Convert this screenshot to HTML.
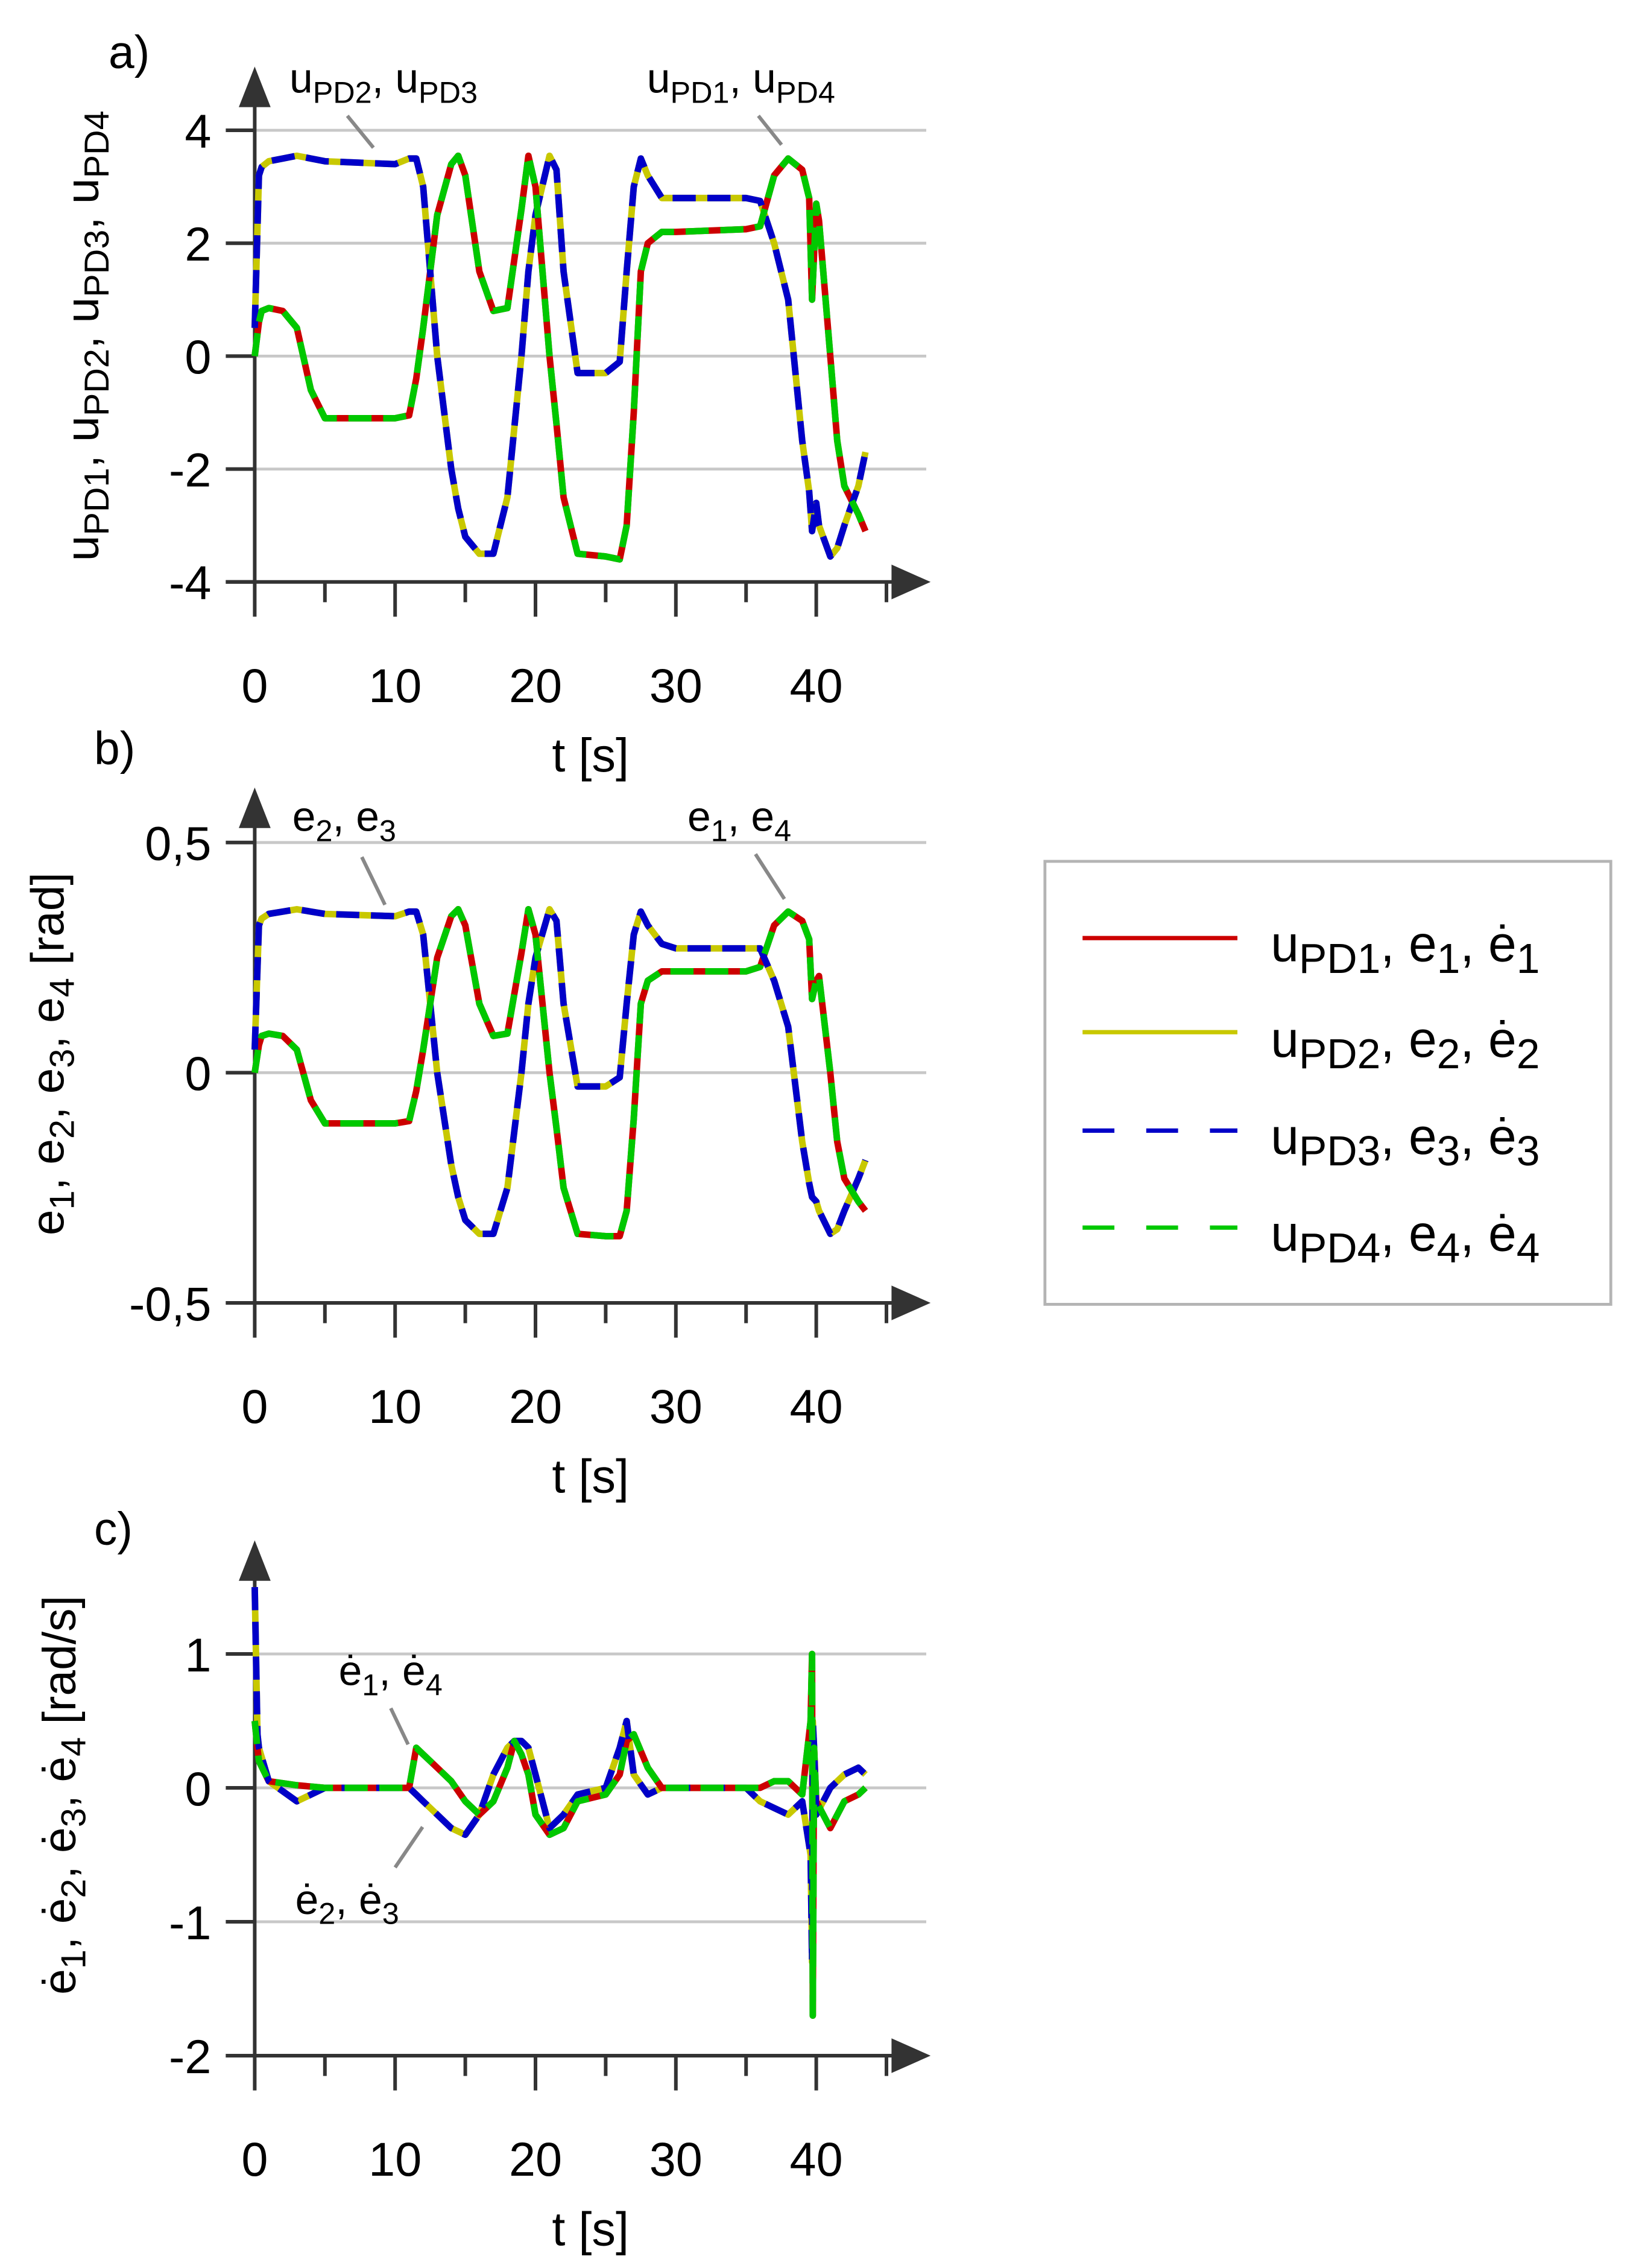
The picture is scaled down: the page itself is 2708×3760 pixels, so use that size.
<!DOCTYPE html>
<html><head><meta charset="utf-8"><style>
html,body{margin:0;padding:0;background:#fff}
svg{display:block}
text{font-family:"Liberation Sans",sans-serif;fill:#000}
</style></head><body>
<svg id="chart" width="2708" height="3760" viewBox="0 0 1128.33 1566.67" xmlns="http://www.w3.org/2000/svg">
<rect width="1128.33" height="1566.67" fill="#fff"/>
<g id="plots"></g>
<g>
<rect x="722" y="595" width="391" height="306" fill="#fff" stroke="#b4b4b4" stroke-width="2"/>
<line x1="748" y1="648" x2="855" y2="648" stroke="#cc0000" stroke-width="3"/>
<line x1="748" y1="713" x2="855" y2="713" stroke="#c8c800" stroke-width="3"/>
<line x1="748" y1="781" x2="855" y2="781" stroke="#0000c8" stroke-width="3" stroke-dasharray="22,22"/>
<line x1="748" y1="848" x2="855" y2="848" stroke="#00c800" stroke-width="3" stroke-dasharray="22,22"/>
<text x="878" y="664" font-size="35">u<tspan dy="8" font-size="29">PD1</tspan><tspan dy="-8">, e</tspan><tspan dy="8" font-size="29">1</tspan><tspan dy="-8">, ė</tspan><tspan dy="8" font-size="29">1</tspan></text>
<text x="878" y="730" font-size="35">u<tspan dy="8" font-size="29">PD2</tspan><tspan dy="-8">, e</tspan><tspan dy="8" font-size="29">2</tspan><tspan dy="-8">, ė</tspan><tspan dy="8" font-size="29">2</tspan></text>
<text x="878" y="797" font-size="35">u<tspan dy="8" font-size="29">PD3</tspan><tspan dy="-8">, e</tspan><tspan dy="8" font-size="29">3</tspan><tspan dy="-8">, ė</tspan><tspan dy="8" font-size="29">3</tspan></text>
<text x="878" y="864" font-size="35">u<tspan dy="8" font-size="29">PD4</tspan><tspan dy="-8">, e</tspan><tspan dy="8" font-size="29">4</tspan><tspan dy="-8">, ė</tspan><tspan dy="8" font-size="29">4</tspan></text>
</g>
</svg>
<script>
// ---- data ----
const tA = [0,0.3,0.5,1,2,3,4,5,10,11,11.5,12,13,14,14.5,15,16,17,18,19,19.5,20,21,21.5,22,23,25,26,26.5,27,27.5,28,29,30,35,36,37,38,39,39.5,39.7,40,40.2,41,41.5,42,43,43.5];
const u1 = [0,0.6,0.8,0.85,0.8,0.5,-0.6,-1.1,-1.1,-1.05,-0.4,0.5,2.5,3.4,3.55,3.2,1.5,0.8,0.85,2.6,3.55,3,0,-1.2,-2.5,-3.5,-3.55,-3.6,-3,-1,1.5,2,2.2,2.2,2.25,2.3,3.2,3.5,3.3,2.8,1.0,2.7,2.4,0,-1.5,-2.3,-2.8,-3.1];
const u2 = [0.5,3.2,3.35,3.45,3.5,3.55,3.5,3.45,3.4,3.5,3.5,3.0,0,-2,-2.7,-3.2,-3.5,-3.5,-2.5,0,1.5,2.5,3.55,3.3,1.5,-0.3,-0.3,-0.1,1.5,3,3.5,3.2,2.8,2.8,2.8,2.75,2,1,-1.5,-2.4,-3.1,-2.6,-3.0,-3.55,-3.4,-3,-2.3,-1.7];
const e1 = [0,0.06,0.08,0.085,0.08,0.05,-0.06,-0.11,-0.11,-0.105,-0.04,0.05,0.25,0.34,0.355,0.32,0.15,0.08,0.085,0.26,0.355,0.3,0,-0.12,-0.25,-0.35,-0.355,-0.355,-0.3,-0.1,0.15,0.2,0.22,0.22,0.22,0.23,0.32,0.35,0.33,0.29,0.16,0.2,0.21,0,-0.15,-0.23,-0.28,-0.3];
const e2 = [0.05,0.32,0.335,0.345,0.35,0.355,0.35,0.345,0.34,0.35,0.35,0.3,0,-0.2,-0.27,-0.32,-0.35,-0.35,-0.25,0,0.15,0.25,0.355,0.33,0.15,-0.03,-0.03,-0.01,0.15,0.3,0.35,0.32,0.28,0.27,0.27,0.27,0.2,0.1,-0.15,-0.24,-0.27,-0.28,-0.3,-0.35,-0.34,-0.3,-0.23,-0.19];
const tC = [0,0.2,0.3,1,3,5,11,11.5,12,13,14,15,16,17,18,18.5,19,19.5,20,21,22,23,25,26,26.5,27,28,29,35,36,37,38,39,39.6,39.7,39.75,39.85,40,41,42,43,43.5];
const d1 = [0.5,0.3,0.2,0.05,0.02,0,0,0.3,0.25,0.15,0.05,-0.1,-0.2,-0.1,0.15,0.35,0.25,0.1,-0.2,-0.35,-0.3,-0.1,-0.05,0.1,0.35,0.4,0.15,0,0,0,0.05,0.05,-0.05,0.5,1.0,-1.7,0.3,-0.1,-0.3,-0.1,-0.05,0];
const d2 = [1.5,0.4,0.3,0.05,-0.1,0,0,-0.05,-0.1,-0.2,-0.3,-0.35,-0.2,0.1,0.3,0.35,0.35,0.3,0.1,-0.3,-0.2,-0.05,0,0.3,0.5,0.1,-0.05,0,0,-0.1,-0.15,-0.2,-0.1,-0.5,-1.3,0.5,0.3,-0.2,0,0.1,0.15,0.1];
const xTicks = [0,10,20,30,40];
const yTicksA = [4,2,0,-2,-4];
const yTicksB = [0.5,0,-0.5];
const yTicksBLabels = ["0,5","0","-0,5"];
const yTicksC = [1,0,-1,-2];

const NS = "http://www.w3.org/2000/svg";
const root = document.getElementById('plots');
function mk(tag, attrs, parent){const e=document.createElementNS(NS,tag);for(const k in attrs)e.setAttribute(k,attrs[k]);(parent||root).appendChild(e);return e;}

function panel(cfg){
  const g = mk('g',{});
  
  
  const X0=176, XS=9.7, xEnd=640;
  const xf = t => X0 + t*XS;
  const yf = v => cfg.y0 - (v - cfg.v0)*cfg.ys;
  cfg.ticks.forEach((v,i)=>{
    if (v!==cfg.vmin) mk('line',{x1:X0,y1:yf(v),x2:xEnd,y2:yf(v),stroke:'#c8c8c8','stroke-width':2},g);
    mk('line',{x1:156,y1:yf(v),x2:X0,y2:yf(v),stroke:'#333','stroke-width':2.5},g);
    const tx = mk('text',{x:146,y:yf(v)+12,'font-size':33,'text-anchor':'end'},g);
    tx.textContent = cfg.labels ? cfg.labels[i] : String(v);
    
    
  });
  const ybot = yf(cfg.vmin);
  mk('line',{x1:X0,y1:ybot+24,x2:X0,y2:cfg.top+20,stroke:'#333','stroke-width':2.5},g);
  mk('line',{x1:156,y1:ybot,x2:xEnd-20,y2:ybot,stroke:'#333','stroke-width':2.5},g);
  mk('polygon',{points:`${X0},${cfg.top-4} ${X0-11},${cfg.top+24} ${X0+11},${cfg.top+24}`,fill:'#333'},g);
  mk('polygon',{points:`${xEnd+3},${ybot} ${xEnd-24},${ybot-12} ${xEnd-24},${ybot+12}`,fill:'#333'},g);
  for(let t=5;t<=45;t+=5){
    const major = t%10===0;
    mk('line',{x1:xf(t),y1:ybot,x2:xf(t),y2:ybot+(major?24:14),stroke:'#333','stroke-width':2.5},g);
  }
  xTicks.forEach(t=>{
    const tx = mk('text',{x:xf(t),y:ybot+83,'font-size':33,'text-anchor':'middle'},g);
    tx.textContent=String(t);
    
    
  });
  const xt = mk('text',{x:408,y:ybot+131,'font-size':33,'text-anchor':'middle'},g);
  xt.textContent='t [s]';
  
  
  const path=(ts,vs)=>ts.map((t,i)=>(i?'L':'M')+xf(t).toFixed(1)+','+yf(vs[i]).toFixed(1)).join(' ');
  const s = [
    [cfg.sB,'#c8c800',null,'series-2'],
    [cfg.sA,'#cc0000',null,'series-1'],
    [cfg.sB,'#0000c8','16,8','series-3'],
    [cfg.sA,'#00c800','16,8','series-4']
  ];
  s.forEach(([vs,col,dash,nm])=>{
    const p = mk('path',{d:path(cfg.t,vs),fill:'none',stroke:col,'stroke-width':4.5,'stroke-linejoin':'round'},g);
    if(dash)p.setAttribute('stroke-dasharray',dash);
    
    
  });
  return g;
}

panel({name:'panel-a',t:tA,sA:u1,sB:u2,y0:246,v0:0,ys:39,ticks:yTicksA,vmin:-4,top:50});
panel({name:'panel-b',t:tA,sA:e1,sB:e2,y0:741,v0:0,ys:318,ticks:yTicksB,labels:yTicksBLabels,vmin:-0.5,top:548});
panel({name:'panel-c',t:tC,sA:d1,sB:d2,y0:1235,v0:0,ys:92.5,ticks:yTicksC,vmin:-2,top:1068});
</script>
<svg style="position:absolute;left:0;top:0" width="2708" height="3760" viewBox="0 0 1128.33 1566.67" xmlns="http://www.w3.org/2000/svg">
<text x="75" y="47" font-size="32">a)</text>
<text x="65" y="528" font-size="32">b)</text>
<text x="65" y="1067" font-size="32">c)</text>
<text transform="translate(68,232) rotate(-90)" font-size="32" text-anchor="middle">u<tspan dy="7" font-size="24">PD1</tspan><tspan dy="-7">, u</tspan><tspan dy="7" font-size="24">PD2</tspan><tspan dy="-7">, u</tspan><tspan dy="7" font-size="24">PD3</tspan><tspan dy="-7">, u</tspan><tspan dy="7" font-size="24">PD4</tspan></text>
<text transform="translate(44,728) rotate(-90)" font-size="32" text-anchor="middle">e<tspan dy="7" font-size="24">1</tspan><tspan dy="-7">, e</tspan><tspan dy="7" font-size="24">2</tspan><tspan dy="-7">, e</tspan><tspan dy="7" font-size="24">3</tspan><tspan dy="-7">, e</tspan><tspan dy="7" font-size="24">4</tspan><tspan dy="-7"> [rad]</tspan></text>
<text transform="translate(52,1240) rotate(-90)" font-size="32" text-anchor="middle">ė<tspan dy="7" font-size="24">1</tspan><tspan dy="-7">, ė</tspan><tspan dy="7" font-size="24">2</tspan><tspan dy="-7">, ė</tspan><tspan dy="7" font-size="24">3</tspan><tspan dy="-7">, ė</tspan><tspan dy="7" font-size="24">4</tspan><tspan dy="-7"> [rad/s]</tspan></text>
<g stroke="#888" stroke-width="2.5">
<line x1="240" y1="80" x2="258" y2="102"/><line x1="524" y1="80" x2="540" y2="100"/>
<line x1="250" y1="592" x2="266" y2="625"/><line x1="522" y1="590" x2="542" y2="621"/>
<line x1="270" y1="1180" x2="282" y2="1205"/><line x1="273" y1="1290" x2="292" y2="1262"/>
</g>
<text x="200" y="64" font-size="29">u<tspan dy="7" font-size="21">PD2</tspan><tspan dy="-7">, u</tspan><tspan dy="7" font-size="21">PD3</tspan></text>
<text x="447" y="64" font-size="29">u<tspan dy="7" font-size="21">PD1</tspan><tspan dy="-7">, u</tspan><tspan dy="7" font-size="21">PD4</tspan></text>
<text x="202" y="574" font-size="29">e<tspan dy="7" font-size="21">2</tspan><tspan dy="-7">, e</tspan><tspan dy="7" font-size="21">3</tspan></text>
<text x="475" y="574" font-size="29">e<tspan dy="7" font-size="21">1</tspan><tspan dy="-7">, e</tspan><tspan dy="7" font-size="21">4</tspan></text>
<text x="234" y="1164" font-size="29">ė<tspan dy="7" font-size="21">1</tspan><tspan dy="-7">, ė</tspan><tspan dy="7" font-size="21">4</tspan></text>
<text x="204" y="1322" font-size="29">ė<tspan dy="7" font-size="21">2</tspan><tspan dy="-7">, ė</tspan><tspan dy="7" font-size="21">3</tspan></text>
</svg>
</body></html>
